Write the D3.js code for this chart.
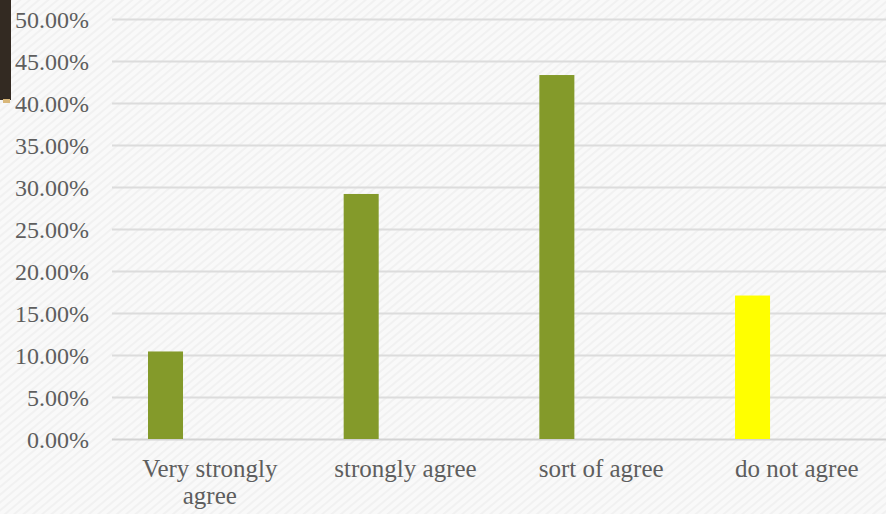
<!DOCTYPE html>
<html>
<head>
<meta charset="utf-8">
<script src="https://cdn.jsdelivr.net/npm/d3@7"></script>
<style>
  html, body { margin: 0; padding: 0; background: #f6f6f6; overflow: hidden; }
  svg { display: block; }
  .lbl { font-family: "Liberation Serif", "Times New Roman", Times, "DejaVu Serif", serif; fill: #5e5e5e; }
</style>
</head>
<body>
<svg id="chart" width="886" height="514"></svg>
<script>
// Survey responses: share of answers per level of agreement
const categories = ["Very strongly agree", "strongly agree", "sort of agree", "do not agree"];
const shares = [0.1042, 0.2917, 0.4333, 0.1708];
const barColors = ["#849a2a", "#849a2a", "#849a2a", "#ffff00"];
const yTicks = [0, 0.05, 0.10, 0.15, 0.20, 0.25, 0.30, 0.35, 0.40, 0.45, 0.50];

const W = 886, H = 514;
const svg = d3.select("#chart");

// textured paper background
const defs = svg.append("defs");
const pat = defs.append("pattern")
  .attr("id", "paper")
  .attr("width", 6).attr("height", 6)
  .attr("patternUnits", "userSpaceOnUse")
  .attr("patternTransform", "rotate(-40)");
pat.append("rect").attr("width", 6).attr("height", 6).attr("fill", "#f9f9f9");
pat.append("rect").attr("width", 6).attr("height", 2).attr("fill", "#f1f1f1");
svg.append("rect").attr("width", W).attr("height", H).attr("fill", "url(#paper)");

// dark strip at the top-left edge of the slide
svg.append("rect").attr("x", 0).attr("y", 0).attr("width", 11).attr("height", 100).attr("fill", "#332a22");
svg.append("rect").attr("x", 3).attr("y", 99).attr("width", 7).attr("height", 4).attr("fill", "#d9b779");

const plot = { left: 112, right: 894.7, top: 19, bottom: 439 };

const x = d3.scaleBand()
  .domain(categories)
  .range([plot.left, plot.right])
  .padding(0);

// each bar occupies the first slot of a two-slot cluster within its category
const slot = d3.scaleBand()
  .domain(["share", "spare"])
  .range([0, x.bandwidth()])
  .paddingInner(0.605)
  .paddingOuter(0.406);

const y = d3.scaleLinear()
  .domain([0, 0.5])
  .range([plot.bottom, plot.top]);

// horizontal gridlines
svg.append("g")
  .selectAll("line")
  .data(yTicks)
  .join("line")
  .attr("x1", plot.left)
  .attr("x2", W)
  .attr("y1", d => Math.round(y(d)) + 0.5)
  .attr("y2", d => Math.round(y(d)) + 0.5)
  .attr("stroke", d => d === 0 ? "#d3d3d3" : "#dcdcdc")
  .attr("stroke-width", 2);

// y axis labels
const fmt = d3.format(".2%");
const yAxis = d3.axisLeft(y).tickValues(yTicks).tickFormat(fmt).tickSize(0).tickPadding(0);
const gy = svg.append("g")
  .attr("transform", `translate(89,0)`)
  .call(yAxis)
  .attr("font-family", null)
  .attr("font-size", null);
gy.select(".domain").remove();
gy.selectAll("text")
  .attr("class", "lbl")
  .style("font-size", "24px")
  .attr("fill", null)
  .attr("dy", "0.34em");

// bars
svg.append("g")
  .selectAll("rect")
  .data(categories.map((c, i) => ({ c, v: shares[i], col: barColors[i] })))
  .join("rect")
  .attr("x", d => x(d.c) + slot("share"))
  .attr("width", slot.bandwidth())
  .attr("y", d => y(d.v))
  .attr("height", d => y(0) - y(d.v))
  .attr("fill", d => d.col);

// category labels, wrapped to fit each band
const labelLines = {
  "Very strongly agree": ["Very strongly", "agree"],
  "strongly agree": ["strongly agree"],
  "sort of agree": ["sort of agree"],
  "do not agree": ["do not agree"]
};
const xl = svg.append("g");
categories.forEach(c => {
  const t = xl.append("text")
    .attr("class", "lbl")
    .attr("x", x(c) + x.bandwidth() / 2)
    .attr("y", 477)
    .attr("text-anchor", "middle")
    .style("font-size", "25px");
  labelLines[c].forEach((line, i) => {
    t.append("tspan")
      .attr("x", x(c) + x.bandwidth() / 2)
      .attr("dy", i === 0 ? 0 : 27)
      .text(line);
  });
});
</script>
</body>
</html>
